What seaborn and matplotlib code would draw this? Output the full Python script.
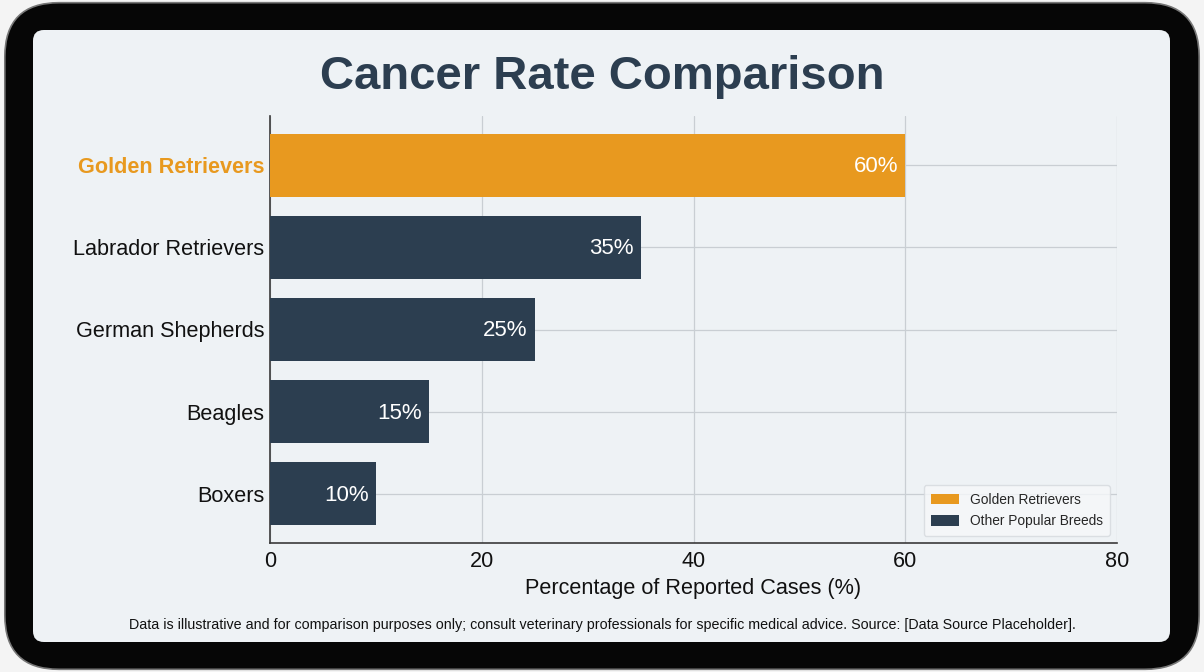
"""Cancer rate comparison chart drawn with seaborn inside a tablet style frame."""

import matplotlib.pyplot as plt
import matplotlib.patches as mpatches
import pandas as pd
import seaborn as sns

plt.switch_backend('agg')

BREEDS = ["Golden Retrievers", "Labrador Retrievers", "German Shepherds", "Beagles", "Boxers"]
RATES = [60, 35, 25, 15, 10]
GROUPS = ["Golden Retrievers", "Other Popular Breeds", "Other Popular Breeds",
          "Other Popular Breeds", "Other Popular Breeds"]
X_TICKS = [0, 20, 40, 60, 80]

GOLD = '#E8991F'
NAVY = '#2C3E50'
PANEL = '#EEF2F5'
GRID = '#C9CED3'
FONT = ['Liberation Sans', 'DejaVu Sans']

sns.set_theme(style='white')
plt.rcParams['font.family'] = FONT

df = pd.DataFrame({'breed': BREEDS, 'rate': RATES, 'group': GROUPS})

fig = plt.figure(figsize=(12.04, 6.72), dpi=100, facecolor='#F4F4F4')

# tablet frame and inner screen, kept behind the axes
frame = mpatches.FancyBboxPatch((0.004, 0.004), 0.992, 0.992,
                                boxstyle='round,pad=0,rounding_size=0.045',
                                transform=fig.transFigure, facecolor='#060606',
                                edgecolor='#777777', linewidth=1.2,
                                mutation_aspect=1204 / 672, zorder=-10)
fig.patches.append(frame)
screen = mpatches.FancyBboxPatch((33 / 1204, 30 / 672), 1137 / 1204, 612 / 672,
                                 boxstyle='round,pad=0,rounding_size=0.009',
                                 transform=fig.transFigure, facecolor=PANEL,
                                 edgecolor='none', mutation_aspect=1204 / 672, zorder=-9)
fig.patches.append(screen)

ax = fig.add_axes([270 / 1204, 129 / 672, 847 / 1204, 427 / 672])
ax.set_facecolor('none')

sns.barplot(data=df, y='breed', x='rate', hue='group', dodge=False, orient='h',
            palette={'Golden Retrievers': GOLD, 'Other Popular Breeds': NAVY},
            width=0.77, saturation=1, linewidth=0, ax=ax, zorder=3)

ax.set_xlim(0, 80)
ax.set_ylim(4.6, -0.6)
ax.set_xticks(X_TICKS)
ax.set_yticks(range(len(BREEDS)))
ax.grid(True, color=GRID, linewidth=0.9, zorder=0)
ax.set_axisbelow(True)
for side in ['top', 'right']:
    ax.spines[side].set_visible(False)
for side in ['left', 'bottom']:
    ax.spines[side].set_color('#3A3A3A')
    ax.spines[side].set_linewidth(1.2)
ax.tick_params(axis='y', length=0, labelsize=15.6, colors='#111111', pad=4)
ax.tick_params(axis='x', length=0, labelsize=15.6, colors='#111111', pad=6)
ax.set_ylabel('')
ax.set_xlabel('Percentage of Reported Cases (%)', fontsize=15.6, color='#111111', labelpad=4)

gold_label = ax.get_yticklabels()[0]
gold_label.set_color(GOLD)
gold_label.set_fontweight('bold')

# value labels inside the bar ends
for patch in ax.patches:
    width = patch.get_width()
    if width <= 0:
        continue
    ax.annotate('{:d}%'.format(int(round(width))),
                (width, patch.get_y() + patch.get_height() / 2),
                xytext=(-5, -1), textcoords='offset points',
                ha='right', va='center', color='white', fontsize=16, zorder=4)

legend = ax.legend(loc='lower right', fontsize=9.9, frameon=True, handlelength=2.0,
                   handleheight=0.8, borderpad=0.55, labelspacing=0.55,
                   borderaxespad=0, bbox_to_anchor=(0.992, 0.017))
legend.get_frame().set_facecolor('#F6F8FA')
legend.get_frame().set_edgecolor('#D5D9DD')
legend.set_title(None)

fig.text(0.5, 0.886, 'Cancer Rate Comparison', ha='center', va='center',
         fontsize=34, fontweight='bold', color=NAVY)
fig.text(0.5, 0.07,
         'Data is illustrative and for comparison purposes only; consult veterinary '
         'professionals for specific medical advice. Source: [Data Source Placeholder].',
         ha='center', va='center', fontsize=10.3, color='#111111')

fig.savefig('out.png', dpi=100, facecolor=fig.get_facecolor())
